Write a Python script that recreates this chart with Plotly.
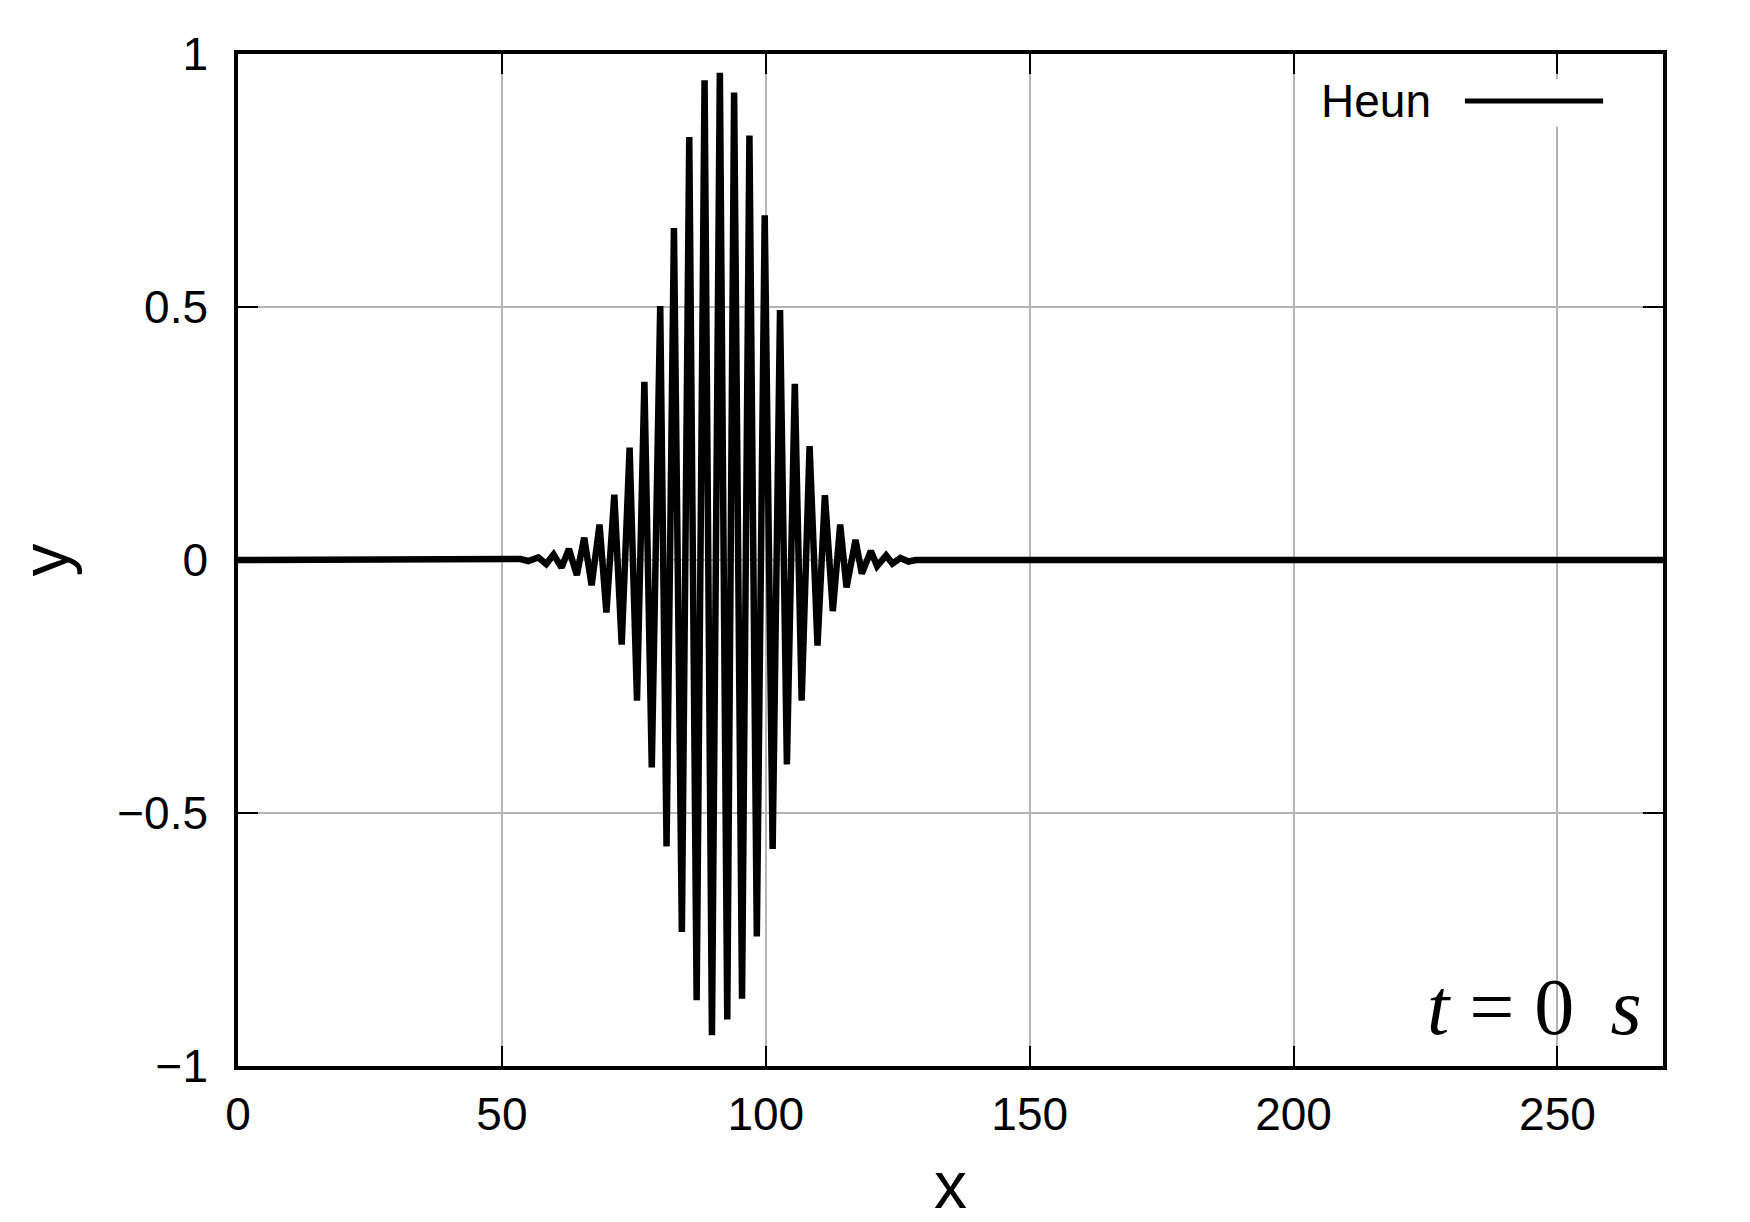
import plotly.graph_objects as go

x_vals = [0.0, 52.0, 53.5, 55.0, 56.9, 58.4, 59.8, 61.3, 62.7, 64.2, 65.6, 67.0, 68.5, 69.8,
          71.3, 72.7, 74.2, 75.6, 77.0, 78.4, 80.0, 81.2, 82.6, 84.1, 85.5, 86.9, 88.4, 89.8,
          91.3, 92.7, 94.0, 95.5, 96.9, 98.3, 99.8, 101.3, 102.7, 104.0, 105.5, 106.8, 108.3,
          109.8, 111.2, 112.7, 114.1, 115.3, 117.0, 118.2, 119.9, 121.1, 122.8, 124.0, 125.5,
          127.0, 128.5, 270.0]
y_vals = [0.0, 0.0, 0.002, -0.002, 0.005, -0.008, 0.011, -0.015, 0.022, -0.030, 0.044, -0.050,
          0.070, -0.104, 0.129, -0.167, 0.222, -0.278, 0.352, -0.410, 0.502, -0.566, 0.656,
          -0.735, 0.836, -0.870, 0.948, -0.939, 0.963, -0.908, 0.924, -0.867, 0.839, -0.744,
          0.681, -0.571, 0.494, -0.404, 0.348, -0.278, 0.225, -0.169, 0.128, -0.101, 0.070,
          -0.054, 0.040, -0.027, 0.018, -0.012, 0.009, -0.007, 0.004, -0.003, 0.0, 0.0]

series_name = "Heun"
time_label = "<i>t</i> = 0 &#8201;<i>s</i>"
x_ticks = [0, 50, 100, 150, 200, 250]
y_ticks = [-1, -0.5, 0, 0.5, 1]

# page body adds an 8px offset, so the figure is slightly smaller than the window
W, H = 1742, 1214
L, R, T, B = 230, 87, 46, 156

fig = go.Figure()
fig.add_trace(go.Scatter(x=x_vals, y=y_vals, mode="lines", name=series_name,
                         line=dict(color="black", width=6.5), showlegend=False))

font_sans = "Liberation Sans, Arial, sans-serif"
axis_common = dict(
    showline=True, linecolor="black", linewidth=3.5, mirror="ticks",
    ticks="inside", ticklen=20, tickwidth=2, tickcolor="black",
    showgrid=True, gridcolor="#b4b4b4", gridwidth=1.5, zeroline=False,
    tickfont=dict(family=font_sans, size=46, color="black"),
)
fig.update_xaxes(range=[0, 270], tickvals=x_ticks, ticklabelstandoff=5,
                 title=dict(text="x", font=dict(family=font_sans, size=66, color="black"), standoff=25),
                 **axis_common)
fig.update_yaxes(range=[-1, 1], tickvals=y_ticks, ticklabelstandoff=17,
                 title=dict(text="y", font=dict(family=font_sans, size=66, color="black"), standoff=36),
                 **axis_common)

# legend drawn as in the reference: text, then line sample, on a white box
fig.add_shape(type="rect", xref="paper", yref="paper", x0=0.749, x1=0.975, y0=0.928, y1=0.975,
              fillcolor="white", line=dict(width=0), layer="above")
fig.add_shape(type="line", xref="paper", yref="paper", x0=0.861, x1=0.958, y0=0.9536, y1=0.9536,
              line=dict(color="black", width=5), layer="above")
fig.add_annotation(xref="paper", yref="paper", x=0.8386, y=0.9536, xanchor="right", yanchor="middle",
                   text=series_name, showarrow=False,
                   font=dict(family=font_sans, size=46, color="black"))
fig.add_annotation(xref="paper", yref="paper", x=0.987, y=0.058, xanchor="right", yanchor="middle",
                   text=time_label, showarrow=False,
                   font=dict(family="Liberation Serif, Times New Roman, serif", size=80, color="black"))

fig.update_layout(width=W, height=H, margin=dict(l=L, r=R, t=T, b=B),
                  paper_bgcolor="white", plot_bgcolor="white", showlegend=False)

fig.write_html("out.html")
